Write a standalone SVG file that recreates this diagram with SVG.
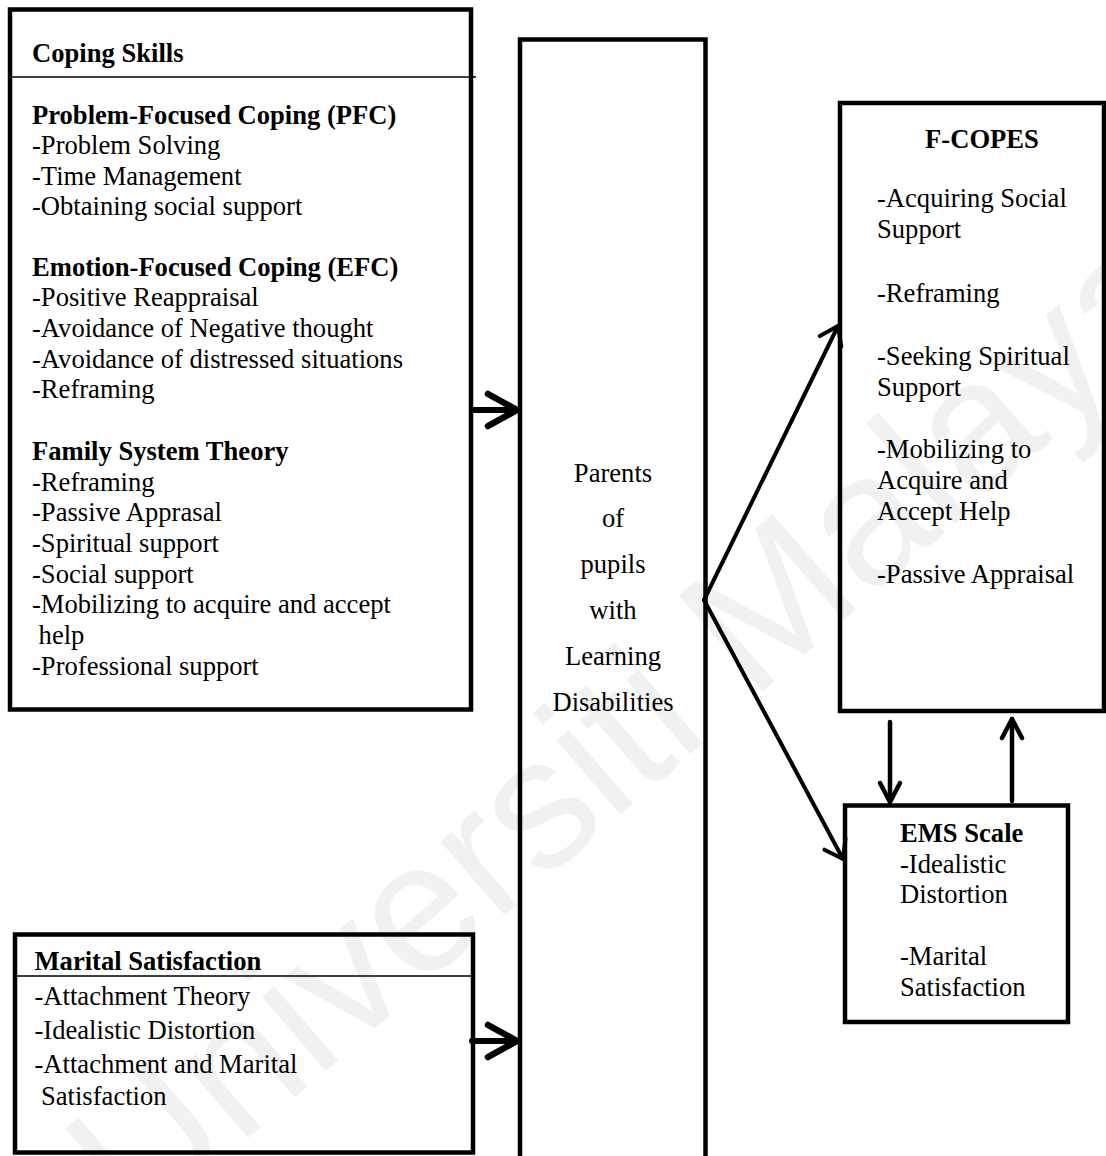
<svg xmlns="http://www.w3.org/2000/svg" width="1106" height="1156" viewBox="0 0 1106 1156">
<style>
  .box { fill: none; stroke: #000; stroke-width: 4.5; stroke-linejoin: miter; }
  .div { stroke: #000; stroke-width: 1.5; }
  text { font-family: "Liberation Serif", "Times New Roman", serif; font-size: 26.6px; fill: #000; }
  .b { font-weight: bold; }
  .c { text-anchor: middle; }
  .wm { font-family: "Liberation Sans", Arial, sans-serif; font-size: 185px; fill: #f1f1f1; }
  .conn { fill: none; stroke: #000; stroke-linecap: round; }
  .thick { stroke-width: 6; }
  .thin { stroke-width: 4.5; }
  .diag { stroke-width: 4; }
  .head { fill: none; stroke: #000; stroke-linecap: round; stroke-linejoin: round; }
</style>
<defs>
  <marker id="ahThick" markerUnits="userSpaceOnUse" orient="auto" refX="0" refY="0" markerWidth="40" markerHeight="40" overflow="visible">
    <path class="head" d="M -29 -16 L 0 0 L -29 16" stroke-width="6.5"/>
  </marker>
  <marker id="ahThin" markerUnits="userSpaceOnUse" orient="auto" refX="0" refY="0" markerWidth="30" markerHeight="30" overflow="visible">
    <path class="head" d="M -19 -10 L 0 0 L -19 10" stroke-width="4.5"/>
  </marker>
  <marker id="ahDiag" markerUnits="userSpaceOnUse" orient="auto" refX="0" refY="0" markerWidth="30" markerHeight="30" overflow="visible">
    <path class="head" d="M -17 -12 L 0 0 L -17 12" stroke-width="4"/>
  </marker>
</defs>
<rect width="1106" height="1156" fill="#fff"/>
<text class="wm" transform="translate(138,1234) rotate(-41)">Universiti Malaya</text>

<g id="coping">
  <rect class="box" x="10" y="9.5" width="461" height="700"/>
  <line class="div" x1="12" y1="77" x2="476" y2="77"/>
  <text class="b" x="32" y="62">Coping Skills</text>
  <text class="b" x="32" y="124">Problem-Focused Coping (PFC)</text>
  <text x="32" y="154">-Problem Solving</text>
  <text x="32" y="185">-Time Management</text>
  <text x="32" y="215">-Obtaining social support</text>
  <text class="b" x="32" y="276">Emotion-Focused Coping (EFC)</text>
  <text x="32" y="306">-Positive Reappraisal</text>
  <text x="32" y="337">-Avoidance of Negative thought</text>
  <text x="32" y="368">-Avoidance of distressed situations</text>
  <text x="32" y="398">-Reframing</text>
  <text class="b" x="32" y="460">Family System Theory</text>
  <text x="32" y="491">-Reframing</text>
  <text x="32" y="521">-Passive Apprasal</text>
  <text x="32" y="552">-Spiritual support</text>
  <text x="32" y="583">-Social support</text>
  <text x="32" y="613">-Mobilizing to acquire and accept</text>
  <text x="38.6" y="644">help</text>
  <text x="32" y="675">-Professional support</text>
</g>

<g id="parents">
  <rect class="box" x="520" y="39.5" width="185.5" height="1130"/>
  <text class="c" x="613" y="482">Parents</text>
  <text class="c" x="613" y="527">of</text>
  <text class="c" x="613" y="573">pupils</text>
  <text class="c" x="613" y="619">with</text>
  <text class="c" x="613" y="665">Learning</text>
  <text class="c" x="613" y="711">Disabilities</text>
</g>

<g id="fcopes">
  <rect class="box" x="840" y="103" width="264" height="608"/>
  <text class="b c" x="982" y="148">F-COPES</text>
  <text x="877" y="207">-Acquiring Social</text>
  <text x="877" y="238">Support</text>
  <text x="877" y="302">-Reframing</text>
  <text x="877" y="365">-Seeking Spiritual</text>
  <text x="877" y="396">Support</text>
  <text x="877" y="458">-Mobilizing to</text>
  <text x="877" y="489">Acquire and</text>
  <text x="877" y="520">Accept Help</text>
  <text x="877" y="583">-Passive Appraisal</text>
</g>

<g id="ems">
  <rect class="box" x="845" y="805.5" width="223" height="216.5"/>
  <text class="b" x="900" y="842">EMS Scale</text>
  <text x="900" y="873">-Idealistic</text>
  <text x="900" y="903">Distortion</text>
  <text x="900" y="965">-Marital</text>
  <text x="900" y="996">Satisfaction</text>
</g>

<g id="marital">
  <rect class="box" x="15" y="934.5" width="458" height="218"/>
  <line class="div" x1="14" y1="976" x2="472" y2="976"/>
  <text class="b" x="34.5" y="970">Marital Satisfaction</text>
  <text x="34.5" y="1005">-Attachment Theory</text>
  <text x="34.5" y="1039">-Idealistic Distortion</text>
  <text x="34.5" y="1073">-Attachment and Marital</text>
  <text x="41" y="1105">Satisfaction</text>
</g>

<g id="connectors">
  <line class="conn thick" x1="473" y1="410" x2="517" y2="410" marker-end="url(#ahThick)"/>
  <line class="conn thick" x1="472" y1="1041" x2="517" y2="1041" marker-end="url(#ahThick)"/>
  <line class="conn diag" x1="704" y1="600" x2="838" y2="326" marker-end="url(#ahDiag)"/>
  <line class="conn diag" x1="704" y1="600" x2="843" y2="859" marker-end="url(#ahDiag)"/>
  <line class="conn thin" x1="890" y1="722" x2="890" y2="802" marker-end="url(#ahThin)"/>
  <line class="conn thin" x1="1012" y1="801" x2="1012" y2="719" marker-end="url(#ahThin)"/>
</g>
</svg>
